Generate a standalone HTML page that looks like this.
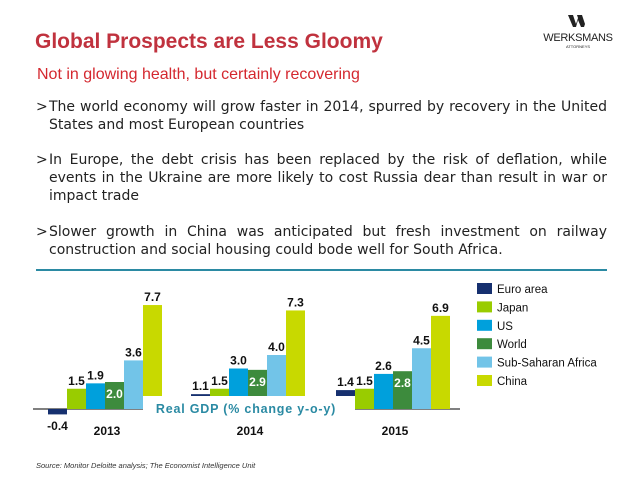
<!DOCTYPE html>
<html><head><meta charset="utf-8"><style>
body{margin:0;width:638px;height:479px;background:#fff;position:relative;overflow:hidden;font-family:"Liberation Sans","DejaVu Sans",sans-serif}
.t{position:absolute;left:35px;top:30px;font-size:21px;font-weight:bold;color:#c0323e}
.s{position:absolute;left:37px;top:66px;font-size:16px;color:#d4282f}
.b{position:absolute;left:36px;width:571px;font-family:"DejaVu Sans",sans-serif;font-size:14px;line-height:18px;color:#222}
.b span.g{position:absolute;left:0;top:0}
.b div{margin-left:13px;text-align:justify;text-align-last:left}
</style></head><body>
<div class="t">Global Prospects are Less Gloomy</div>
<div class="s">Not in glowing health, but certainly recovering</div>
<div style="position:absolute;left:540px;top:14px;width:76px;text-align:center;color:#222">
<svg width="20" height="12" viewBox="0 0 20 12"><path d="M0 0h5l3 9 2-6-1-3h5l3 9 3-9h0L16 12h-3l-3-7-2 7H5z" fill="#222"/></svg>
<div style="font-size:11px;line-height:12px;letter-spacing:-0.3px">WERKSMANS</div><div style="font-size:4px">ATTORNEYS</div></div>
<div class="b" style="top:98px"><span class="g">&gt;</span><div>The world economy will grow faster in 2014, spurred by recovery in the United States and most European countries</div></div>
<div class="b" style="top:151px"><span class="g">&gt;</span><div>In Europe, the debt crisis has been replaced by the risk of deflation, while events in the Ukraine are more likely to cost Russia dear than result in war or impact trade</div></div>
<div class="b" style="top:223px"><span class="g">&gt;</span><div>Slower growth in China was anticipated but fresh investment on railway construction and social housing could bode well for South Africa.</div></div>
<div style="position:absolute;left:36px;top:269px;width:571px;height:2px;background:#2b8aa3"></div>
<svg id="c" width="638" height="479" style="position:absolute;left:0;top:0"></svg>
<div style="position:absolute;left:36px;top:461px;font-size:7.5px;font-style:italic;color:#333">Source: Monitor Deloitte analysis; The Economist Intelligence Unit</div>
<script>
const years=["2013","2014","2015"];
const series=["Euro area","Japan","US","World","Sub-Saharan Africa","China"];
const euro=[-0.4,1.1,1.4];
const japan=[1.5,1.5,1.5];
const us=[1.9,3.0,2.6];
const world=[2.0,2.9,2.8];
const ssa=[3.6,4.0,4.5];
const china=[7.7,7.3,6.9];
const colors=["#16306f","#99cc00","#00a0dc","#3d8b3d","#72c4e8","#c8d900"];
const data=[euro,japan,us,world,ssa,china];
const svg=document.getElementById('c');const NS="http://www.w3.org/2000/svg";
const y0=409,k=13.5;const y=v=>y0-v*k;
const groupX=[48,191,336],bw=19;
function mk(t,a){const e=document.createElementNS(NS,t);for(const n in a)e.setAttribute(n,a[n]);svg.appendChild(e);return e;}
const ax=mk('line',{x1:33,x2:460,y1:y0,y2:y0,stroke:'#000','stroke-width':1});


years.forEach((yr,g)=>{
 data.forEach((arr,s)=>{
  const v=arr[g],x=groupX[g]+s*bw;
  const r=mk('rect',{x:x,y:Math.min(y(v),y0),width:bw,height:Math.max(Math.abs(v*k),1),fill:colors[s]});
  
  
 });
 const t=mk('text',{x:groupX[g]+3*bw+2,y:435,'font-size':12,'font-weight':'bold','text-anchor':'middle',fill:'#111'});
 t.textContent=yr;
 
 
});
const cover=mk('rect',{x:143,y:396,width:212,height:20,fill:'#fff'});


const at=mk('text',{x:246,y:413,'font-size':12.5,'font-weight':'bold','text-anchor':'middle',fill:'#2a8aa3','letter-spacing':'0.8'});
at.textContent='Real GDP (% change y-o-y)';


years.forEach((yr,g)=>{
 data.forEach((arr,s)=>{
  const v=arr[g],cx=groupX[g]+s*bw+bw/2;
  let ty=v<0?y0+21:y(v)-4,fill='#111';
  if(s===3){ty=y(v)+16;fill='#fff';}
  const t=mk('text',{x:cx,y:ty,'font-size':12,'font-weight':'bold','text-anchor':'middle',fill:fill});
  t.textContent=v.toFixed(1);
  
  
 });
});
series.forEach((n,i)=>{
 const yy=283+i*18.4;
 const r=mk('rect',{x:477,y:yy,width:15,height:11,fill:colors[i]});
 
 
 const t=mk('text',{x:497,y:yy+10,'font-size':11.5,fill:'#111'});
 t.textContent=n;
 
 
});
</script>
</body></html>
